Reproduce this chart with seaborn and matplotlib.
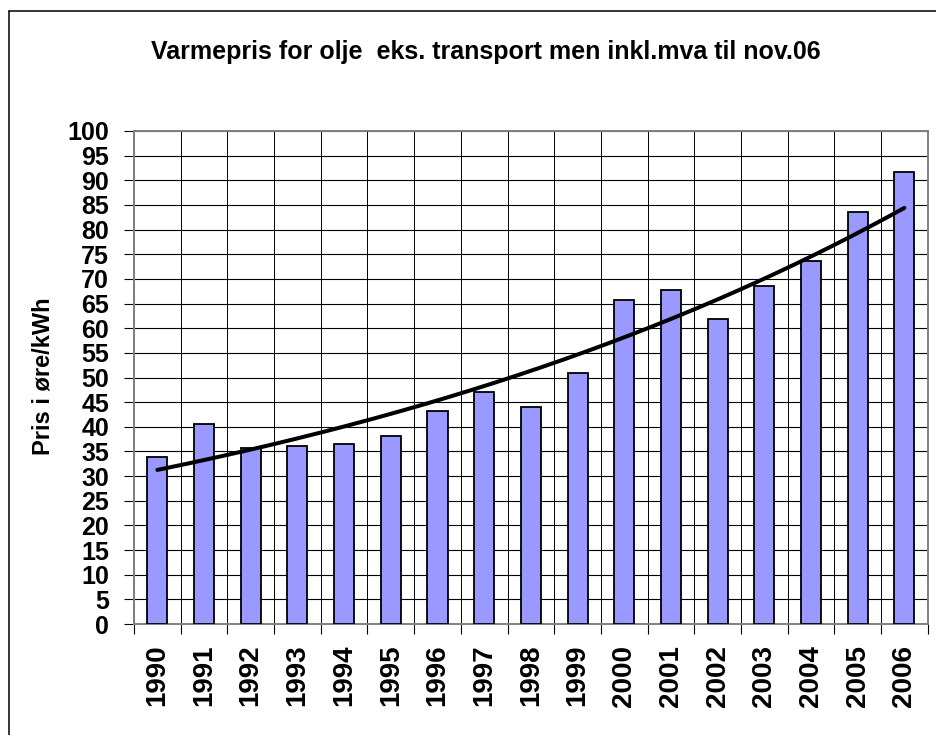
import numpy as np
import pandas as pd
import matplotlib
matplotlib.use("Agg")
import matplotlib.pyplot as plt
from matplotlib.lines import Line2D
import seaborn as sns

# ---- data ----
years = ["1990", "1991", "1992", "1993", "1994", "1995", "1996", "1997", "1998",
         "1999", "2000", "2001", "2002", "2003", "2004", "2005", "2006"]
prices = [33.8, 40.5, 35.8, 36.1, 36.5, 38.2, 43.3, 47.1, 44.0,
          51.0, 65.7, 67.7, 61.9, 68.6, 73.6, 83.6, 91.7]
y_ticks = list(range(0, 101, 5))
title = "Varmepris for olje  eks. transport men inkl.mva til nov.06"
y_label = "Pris i øre/kWh"

df = pd.DataFrame({"year": years, "price": prices})

sns.set_style("white")
plt.rcParams["font.family"] = ["Liberation Sans", "DejaVu Sans"]
plt.rcParams["font.weight"] = "bold"
plt.rcParams["text.color"] = "black"
plt.rcParams["axes.labelcolor"] = "black"
plt.rcParams["xtick.color"] = "black"
plt.rcParams["ytick.color"] = "black"

fig = plt.figure(figsize=(9.36, 7.35), dpi=100)
W, H = 936, 735
ax = fig.add_axes([134 / W, 1 - 624 / H, (927.7 - 134) / W, (624 - 131) / H])

sns.barplot(data=df, x="year", y="price", order=years, color="#9999FF",
            saturation=1, width=0.43, edgecolor="black", linewidth=1.3,
            ax=ax, zorder=3)

# exponential trend line (least squares on log values, like a spreadsheet trendline)
idx = np.arange(len(years))
b, a = np.polyfit(idx, np.log(prices), 1)
xs = np.linspace(0, len(years) - 1, 200)
ax.plot(xs, np.exp(a + b * xs), color="black", linewidth=2.9, zorder=4,
        solid_capstyle="round")

ax.set_xlim(-0.5, len(years) - 0.5)
ax.set_ylim(0, 100)
ax.set_yticks(y_ticks)
ax.set_yticklabels([str(t) for t in y_ticks], fontsize=18, fontweight="bold")
ax.set_xticks(idx)
ax.set_xticklabels(years, rotation=90, fontsize=20, fontweight="bold")
ax.set_xticks(np.arange(-0.5, len(years), 1), minor=True)

ax.tick_params(axis="x", which="major", length=0, pad=15)
ax.tick_params(axis="x", which="minor", length=7, width=0.8, color="black",
               direction="out", bottom=True)
ax.tick_params(axis="y", which="major", length=7, width=0.8, color="black",
               direction="out", left=True, pad=11)

ax.grid(False)
ax.yaxis.grid(True, which="major", color="black", linewidth=0.8, zorder=0)
ax.xaxis.grid(True, which="minor", color="black", linewidth=0.7, zorder=0)
ax.set_axisbelow(True)

for s in ax.spines.values():
    s.set_visible(True)
    s.set_color("#808080")
    s.set_linewidth(1.4)

ax.set_xlabel("")
ax.set_ylabel(y_label, fontsize=17, fontweight="bold")
ax.yaxis.set_label_coords(55 / W, 1 - 376 / H, transform=fig.transFigure)

fig.text(486 / W, 1 - 52 / H, title, ha="center", va="center",
         fontsize=18, fontweight="bold")

# outer chart border (left and top visible)
fig.add_artist(Line2D([9 / W, 9 / W], [0, 1 - 11 / H], transform=fig.transFigure,
                      color="black", linewidth=1.1))
fig.add_artist(Line2D([9 / W, 1], [1 - 11 / H, 1 - 11 / H], transform=fig.transFigure,
                      color="black", linewidth=1.1))

fig.savefig("out.png", dpi=100)
